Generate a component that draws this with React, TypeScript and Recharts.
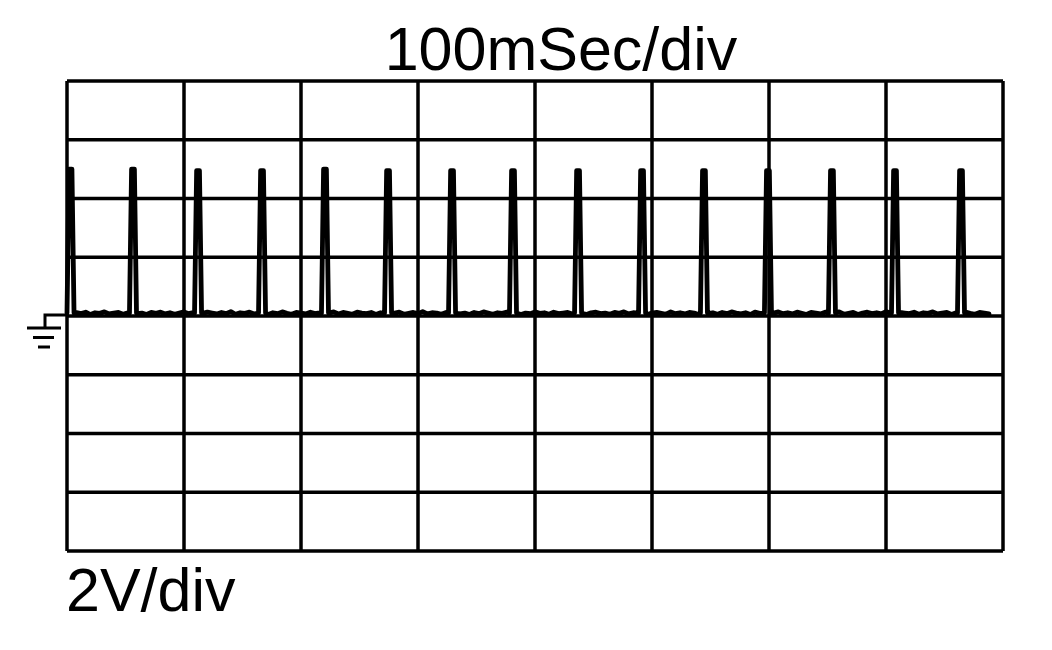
import React from 'react';
import { LineChart, Line, XAxis, YAxis, CartesianGrid } from 'recharts';

// 100 ms per division, 8 divisions across
const timeTicks = [0, 100, 200, 300, 400, 500, 600, 700, 800];
// 2 V per division, ground in the middle
const voltTicks = [-8, -6, -4, -2, 0, 2, 4, 6, 8];

// pulse centres (ms)
const spikeCenters = [3, 56.4, 112, 166.7, 220.5, 274.4, 329.1, 381.2, 436.8, 491.5, 544.4, 599.1, 653.8, 707.7, 764.1];
const spikeTops = [5.0, 5.0, 4.95, 4.95, 5.0, 4.95, 4.95, 4.95, 4.95, 4.95, 4.95, 4.95, 4.95, 4.95, 4.95];

// baseline ripple (V), one sample every 4 ms from 0 to 788 ms
const rippleStep = 4;
const ripple = [
  0.10, 0.06, 0.12, 0.08, 0.13, 0.05, 0.11, 0.09, 0.14, 0.07, 0.10, 0.12, 0.06, 0.11, 0.15, 0.08, 0.10, 0.05, 0.12, 0.09,
  0.13, 0.07, 0.11, 0.06, 0.10, 0.14, 0.08, 0.12, 0.05, 0.09, 0.13, 0.10, 0.07, 0.12, 0.08, 0.15, 0.06, 0.11, 0.09, 0.13,
  0.07, 0.10, 0.12, 0.05, 0.11, 0.08, 0.14, 0.09, 0.06, 0.12, 0.10, 0.07, 0.13, 0.08, 0.11, 0.05, 0.10, 0.14, 0.07, 0.12,
  0.09, 0.06, 0.13, 0.10, 0.08, 0.12, 0.05, 0.11, 0.14, 0.07, 0.10, 0.13, 0.06, 0.09, 0.12, 0.08, 0.15, 0.07, 0.11, 0.10,
  0.06, 0.12, 0.09, 0.13, 0.07, 0.10, 0.05, 0.12, 0.08, 0.14, 0.10, 0.06, 0.11, 0.09, 0.13, 0.07, 0.12, 0.05, 0.10, 0.08,
  0.14, 0.09, 0.11, 0.06, 0.13, 0.08, 0.10, 0.12, 0.07, 0.15, 0.09, 0.05, 0.11, 0.13, 0.08, 0.10, 0.06, 0.12, 0.09, 0.14,
  0.07, 0.11, 0.08, 0.13, 0.05, 0.10, 0.12, 0.09, 0.06, 0.14, 0.08, 0.11, 0.07, 0.12, 0.10, 0.05, 0.13, 0.09, 0.11, 0.06,
  0.12, 0.08, 0.14, 0.10, 0.07, 0.11, 0.05, 0.13, 0.09, 0.12, 0.06, 0.10, 0.14, 0.08, 0.11, 0.07, 0.13, 0.09, 0.05, 0.12,
  0.10, 0.07, 0.13, 0.08, 0.11, 0.14, 0.06, 0.09, 0.12, 0.05, 0.10, 0.13, 0.08, 0.11, 0.07, 0.15, 0.09, 0.06, 0.12, 0.10,
  0.08, 0.13, 0.06, 0.11, 0.09, 0.14, 0.07, 0.10, 0.12, 0.05, 0.11, 0.08, 0.13, 0.09, 0.06, 0.12, 0.10, 0.07,
];

const PULSE_HALF = 3;
const TOP_HALF = 1.2;

function buildTrace() {
  const pts: { t: number; v: number }[] = [];
  ripple.forEach((v, i) => {
    const t = i * rippleStep;
    if (spikeCenters.every(c => Math.abs(t - c) > PULSE_HALF + 0.5)) pts.push({ t, v });
  });
  spikeCenters.forEach((c, i) => {
    pts.push({ t: Math.max(0, c - PULSE_HALF), v: 0.1 });
    pts.push({ t: Math.max(0, c - TOP_HALF), v: spikeTops[i] });
    pts.push({ t: c + TOP_HALF, v: spikeTops[i] });
    pts.push({ t: c + PULSE_HALF, v: 0.1 });
  });
  return pts.sort((a, b) => a.t - b.t);
}

const trace = buildTrace();

const font = '"Liberation Sans", Arial, Helvetica, sans-serif';

// ground marker drawn left of the 0 V line
function GroundMark() {
  return (
    <g stroke="#000" strokeWidth={3} fill="none">
      <polyline points="67,315 45,315 45,328" />
      <line x1={27} y1={328} x2={61} y2={328} />
      <line x1={33} y1={337.5} x2={54} y2={337.5} />
      <line x1={38} y1={347} x2={50} y2={347} />
    </g>
  );
}

export default function App() {
  return (
    <div style={{ position: 'absolute', left: 0, top: 0, width: 1052, height: 650, background: '#fff' }}>
      <LineChart
        width={1052}
        height={650}
        data={trace}
        margin={{ top: 81, right: 49, bottom: 99, left: 67 }}
      >
        <XAxis type="number" dataKey="t" domain={[0, 800]} ticks={timeTicks} hide />
        <YAxis type="number" domain={[-8, 8]} ticks={voltTicks} hide />
        <CartesianGrid stroke="#000" strokeWidth={3.5} strokeOpacity={1} />
        <Line
          type="linear"
          dataKey="v"
          stroke="#000"
          strokeWidth={4.8}
          strokeLinejoin="round"
          strokeLinecap="round"
          dot={false}
          isAnimationActive={false}
        />
        <text x={561} y={70} textAnchor="middle" fontFamily={font} fontSize={61} fill="#000">
          100mSec/div
        </text>
        <text x={66} y={611} textAnchor="start" fontFamily={font} fontSize={61} fill="#000">
          2V/div
        </text>
        <GroundMark />
      </LineChart>
    </div>
  );
}
